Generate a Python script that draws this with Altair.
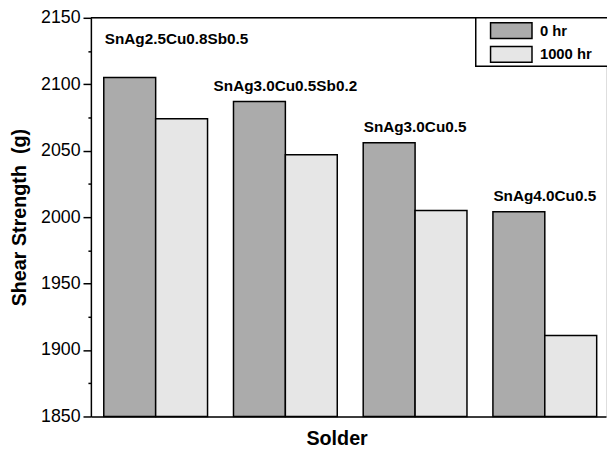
import altair as alt
import pandas as pd

# ---- data ----
solders = ["SnAg2.5Cu0.8Sb0.5", "SnAg3.0Cu0.5Sb0.2", "SnAg3.0Cu0.5", "SnAg4.0Cu0.5"]
times = ["0 hr", "1000 hr"]
strength_0hr = [2105, 2087, 2056, 2004]
strength_1000hr = [2074, 2047, 2005, 1911]
major_ticks = [1850, 1900, 1950, 2000, 2050, 2100, 2150]
minor_ticks = [1875, 1925, 1975, 2025, 2075, 2125]

rows = []
for s, a, b in zip(solders, strength_0hr, strength_1000hr):
    rows.append({"Solder": s, "Time": times[0], "Strength": a})
    rows.append({"Solder": s, "Time": times[1], "Strength": b})
df = pd.DataFrame(rows)

FONT = "Liberation Sans"
W, H = 522, 404

x_scale = alt.Scale(domain=solders, paddingInner=0.2, paddingOuter=0.0856, align=0.58)
y_scale = alt.Scale(domain=[1850, 2150], zero=False, nice=False)

x_axis = alt.Axis(
    title="Solder", labels=False, ticks=False, domain=True,
    domainColor="black", domainWidth=1.5,
    titleFont=FONT, titleFontSize=20, titleFontWeight="bold", titleColor="black",
    titleX=249, titleY=28, titleAlign="center", titleBaseline="alphabetic",
)
y_axis = alt.Axis(
    orient="left", title="Shear Strength\u00a0\u00a0(g)", values=major_ticks, grid=False,
    format="d", tickSize=8,
    tickColor="black", tickWidth=1.5, domainColor="black", domainWidth=1.5,
    labelFont=FONT, labelFontSize=18, labelColor="black", labelPadding=3,
    titleFont=FONT, titleFontSize=20, titleFontWeight="bold", titleColor="black",
    titleX=-66, titleY=H / 2, titleAlign="center", titleBaseline="alphabetic",
    titleAngle=270,
)
y_minor_axis = alt.Axis(
    orient="left", title=None, values=minor_ticks, grid=False, labels=False,
    domain=False, tickSize=3, tickColor="black", tickWidth=1.5,
)

legend = alt.Legend(
    title=None, orient="none", legendX=417, legendY=4,
    symbolType="M-2.625,-1H2.625V1H-2.625Z", symbolSize=256,
    symbolStrokeColor="black", symbolStrokeWidth=1.5, symbolOpacity=1,
    labelFont=FONT, labelFontSize=15, labelFontWeight="bold", labelColor="black",
    labelOffset=20, rowPadding=2, padding=0,
)

bars = alt.Chart(df).mark_bar(stroke="black", strokeWidth=1.5, opacity=1).encode(
    x=alt.X("Solder:N", scale=x_scale, sort=solders, axis=x_axis),
    xOffset=alt.XOffset("Time:N", sort=times, scale=alt.Scale(paddingInner=0, paddingOuter=0)),
    y=alt.Y("Strength:Q", scale=y_scale, axis=y_axis),
    y2=alt.datum(1850),
    fill=alt.Fill("Time:N", sort=times,
                  scale=alt.Scale(domain=times, range=["#ababab", "#e6e6e6"]),
                  legend=legend),
)

labels_rest = alt.Chart(df).transform_filter(
    (alt.datum.Time == times[0]) & (alt.datum.Solder != solders[0])
).mark_text(font=FONT, fontSize=15.5, fontWeight="bold", color="black",
            align="center", baseline="alphabetic", dy=-11).encode(
    x=alt.X("Solder:N", scale=x_scale, sort=solders),
    y=alt.Y("Strength:Q", scale=y_scale, axis=None),
    text="Solder:N",
)

labels_first = alt.Chart(df).transform_filter(
    (alt.datum.Time == times[0]) & (alt.datum.Solder == solders[0])
).mark_text(font=FONT, fontSize=15.5, fontWeight="bold", color="black",
            align="left", baseline="alphabetic", dx=1).encode(
    x=alt.X("Solder:N", scale=x_scale, sort=solders, bandPosition=0),
    y=alt.value(27),
    text="Solder:N",
)

top_line = alt.Chart(alt.Data(values=[{}])).mark_rule(color="black", strokeWidth=1.5).encode(
    y=alt.Y(datum=2150, scale=y_scale, axis=y_minor_axis)
)

legend_frame = alt.Chart(alt.Data(values=[{}])).mark_rect(
    fill="white", stroke="black", strokeWidth=1.5
).encode(
    x=alt.value(390), x2=alt.value(540), y=alt.value(0), y2=alt.value(49)
)

chart = alt.layer(bars, labels_rest, labels_first, top_line, legend_frame).resolve_axis(
    y="independent"
).properties(
    width=W, height=H,
    autosize=alt.AutoSizeParams(type="none"),
    padding={"left": 84, "top": 7, "right": 1, "bottom": 29},
).configure_view(stroke=None).configure(background="white")

chart.save("out.html", embed_options={"renderer": "svg", "actions": False})
